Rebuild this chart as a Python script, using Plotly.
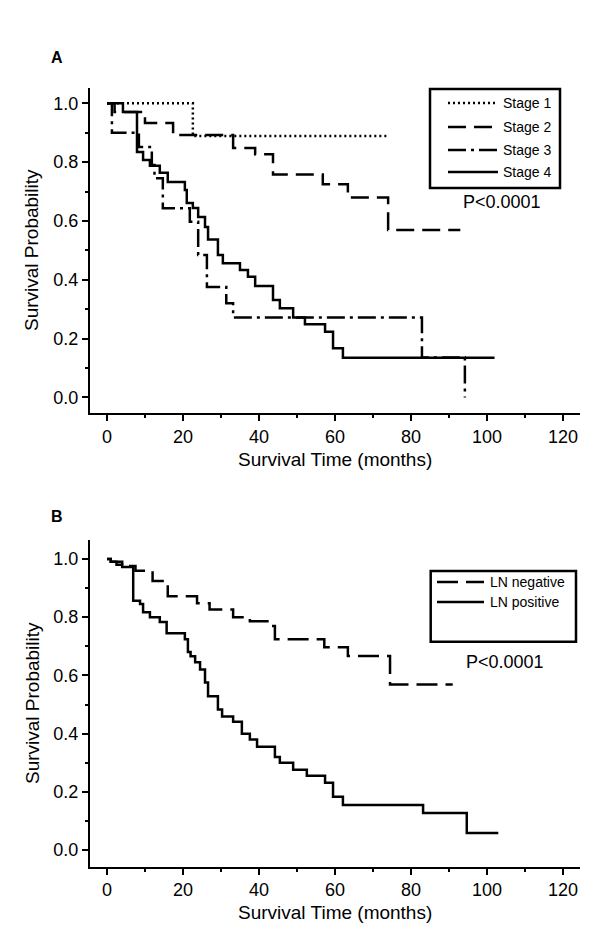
import plotly.graph_objects as go

# ---------------- Data ----------------
# Panel A: survival by stage
stage1_t = [0, 22.6, 74.0]
stage1_s = [1.0, 0.889, 0.889]

stage2_t = [0, 2.0, 10.0, 17.4, 33.2, 39.0, 43.7, 56.8, 63.4, 74.0, 93.0]
stage2_s = [1.0, 0.97, 0.933, 0.892, 0.848, 0.827, 0.758, 0.725, 0.68, 0.569, 0.569]

stage3_t = [0, 1.3, 8.4, 11.8, 12.5, 14.7, 21.8, 24.0, 26.3, 31.4, 33.2, 82.9, 94.2]
stage3_s = [1.0, 0.90, 0.851, 0.79, 0.745, 0.643, 0.597, 0.484, 0.375, 0.32, 0.272, 0.136, 0.0]

stage4_t = [0, 4.2, 7.9, 9.5, 11.3, 13.9, 16.0, 20.5, 21.0, 22.6, 24.0, 25.8, 26.6,
            29.2, 30.5, 35.0, 37.1, 39.0, 43.7, 45.5, 49.0, 52.1, 57.4, 59.5, 62.1, 102.0]
stage4_s = [1.0, 0.97, 0.834, 0.807, 0.788, 0.764, 0.732, 0.705, 0.661, 0.644, 0.613, 0.579, 0.537,
            0.484, 0.456, 0.433, 0.41, 0.379, 0.331, 0.303, 0.272, 0.249, 0.223, 0.167, 0.135, 0.135]

# Panel B: survival by lymph node status
lnneg_t = [0, 1.0, 4.0, 7.5, 12.0, 16.0, 23.7, 27.0, 33.2, 37.6, 43.4, 44.2, 57.2, 63.4, 74.5, 91.0]
lnneg_s = [1.0, 0.99, 0.976, 0.959, 0.924, 0.872, 0.848, 0.826, 0.80, 0.786, 0.77, 0.724, 0.697, 0.667, 0.569, 0.569]

lnpos_t = [0, 1.0, 2.5, 4.0, 6.9, 8.7, 9.5, 11.3, 13.9, 15.7, 20.5, 21.3, 22.0, 23.2, 24.5, 25.8, 26.6,
           29.2, 30.3, 33.2, 35.5, 37.6, 39.5, 44.2, 45.5, 49.0, 52.6, 57.4, 59.5, 62.1, 83.2, 94.7, 103.0]
lnpos_s = [1.0, 0.99, 0.98, 0.972, 0.856, 0.845, 0.817, 0.80, 0.783, 0.745, 0.724, 0.68, 0.666, 0.645, 0.62,
           0.576, 0.528, 0.483, 0.459, 0.441, 0.40, 0.38, 0.355, 0.32, 0.30, 0.276, 0.255, 0.231, 0.183,
           0.155, 0.127, 0.059, 0.059]

x_ticks = [0, 20, 40, 60, 80, 100, 120]
y_ticks = [0.0, 0.2, 0.4, 0.6, 0.8, 1.0]
stage_names = ["Stage 1", "Stage 2", "Stage 3", "Stage 4"]
ln_names = ["LN negative", "LN positive"]
p_text = "P<0.0001"
x_title = "Survival Time (months)"
y_title = "Survival Probability"

# ---------------- Styles ----------------
FONT = "Arial, 'Liberation Sans', Helvetica, sans-serif"
OFF = 8                      # default page body margin
W, H = 600 - OFF, 943 - OFF
LW = 2.5
DOT = "2px,3px"
DASH = "18px,8px"
DASHDOT = "18px,5px,3px,5px"
LNDASH = "21px,8px"

def px_x(p):
    return (p - OFF) / W

def px_y(p):
    return 1 - (p - OFF) / H

fig = go.Figure()

series_a = [(stage1_t, stage1_s, DOT), (stage2_t, stage2_s, DASH),
            (stage3_t, stage3_s, DASHDOT), (stage4_t, stage4_s, "solid")]
for (t, s, d), name in zip(series_a, stage_names):
    fig.add_trace(go.Scatter(x=t, y=s, mode="lines", name=name, line_shape="hv",
                             line=dict(color="black", width=LW, dash=d),
                             xaxis="x", yaxis="y", showlegend=False))

series_b = [(lnneg_t, lnneg_s, LNDASH), (lnpos_t, lnpos_s, "solid")]
for (t, s, d), name in zip(series_b, ln_names):
    fig.add_trace(go.Scatter(x=t, y=s, mode="lines", name=name, line_shape="hv",
                             line=dict(color="black", width=LW, dash=d),
                             xaxis="x2", yaxis="y2", showlegend=False))

xdom = [px_x(90), px_x(580)]
xr = [-4.47, 124.5]

def xaxis(anchor):
    return dict(domain=xdom, range=xr, anchor=anchor, showline=True, linecolor="black",
                linewidth=2, ticks="outside", ticklen=6, tickwidth=2, tickcolor="black",
                tickvals=x_ticks, ticktext=[str(v) for v in x_ticks],
                minor=dict(tickvals=[10, 30, 50, 70, 90, 110], ticks="outside", ticklen=3,
                           tickwidth=2, tickcolor="black"),
                showgrid=False, zeroline=False,
                tickfont=dict(family=FONT, size=18, color="black"))

def yaxis(anchor, dom, rng):
    return dict(domain=dom, range=rng, anchor=anchor, showline=True, linecolor="black",
                linewidth=2, ticks="outside", ticklen=6, tickwidth=2, tickcolor="black",
                tickvals=y_ticks, ticktext=["%.1f" % v for v in y_ticks],
                minor=dict(tickvals=[0.1, 0.3, 0.5, 0.7, 0.9], ticks="outside", ticklen=3,
                           tickwidth=2, tickcolor="black"),
                showgrid=False, zeroline=False,
                tickfont=dict(family=FONT, size=18, color="black"))

fig.update_layout(
    width=W, height=H, margin=dict(l=0, r=0, t=0, b=0),
    paper_bgcolor="white", plot_bgcolor="white", showlegend=False,
    xaxis=xaxis("y"),
    yaxis=yaxis("x", [px_y(413.3), px_y(88.3)], [-0.054, 1.051]),
    xaxis2=xaxis("y2"),
    yaxis2=yaxis("x2", [px_y(866.7), px_y(540)], [-0.057, 1.065]),
)

shapes = []
annotations = []

def text(s, x, y, size, xanchor="center", angle=0):
    annotations.append(dict(text=s, x=px_x(x), y=px_y(y), xref="paper", yref="paper",
                            showarrow=False, xanchor=xanchor, yanchor="middle", textangle=angle,
                            font=dict(family=FONT, size=size, color="black")))

# Panel letters
text("<b>A</b>", 57, 58, 16)
text("<b>B</b>", 57, 516, 16)

# Axis titles (centred on the axes)
text(x_title, 335, 459, 19)
text(x_title, 335, 912, 19)
text(y_title, 32, 250, 19, angle=-90)
text(y_title, 32, 703, 19, angle=-90)

# Legend A (drawn box)
shapes.append(dict(type="rect", xref="paper", yref="paper", x0=px_x(430), x1=px_x(560),
                   y0=px_y(188), y1=px_y(89), line=dict(color="black", width=2.5)))
for (t, s, d), name, yy in zip(series_a, stage_names, [103, 127, 150, 172]):
    shapes.append(dict(type="line", xref="paper", yref="paper", x0=px_x(448), x1=px_x(498),
                       y0=px_y(yy), y1=px_y(yy), line=dict(color="black", width=LW, dash=d)))
    text(name, 501, yy, 14, xanchor="left")
text(p_text, 502, 202, 18)

# Legend B (drawn box)
shapes.append(dict(type="rect", xref="paper", yref="paper", x0=px_x(430.7), x1=px_x(576),
                   y0=px_y(641.7), y1=px_y(571), line=dict(color="black", width=2.5)))
for (t, s, d), name, yy in zip(series_b, ln_names, [582, 602]):
    shapes.append(dict(type="line", xref="paper", yref="paper", x0=px_x(437), x1=px_x(484),
                       y0=px_y(yy), y1=px_y(yy), line=dict(color="black", width=LW, dash=d)))
    text(name, 488, yy, 14, xanchor="left")
text(p_text, 505, 662, 18)

fig.update_layout(shapes=shapes, annotations=annotations)
fig.write_html("out.html")
